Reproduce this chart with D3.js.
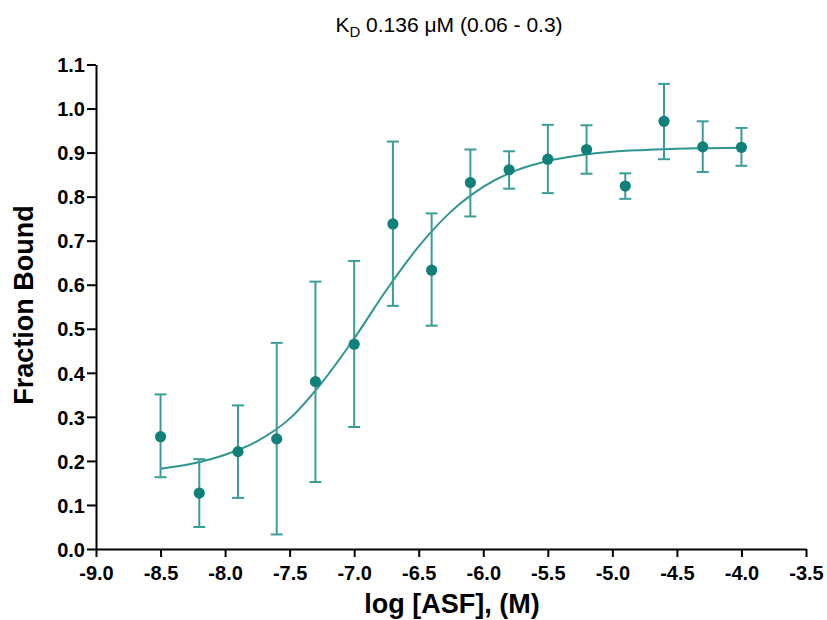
<!DOCTYPE html>
<html>
<head>
<meta charset="utf-8">
<script src="https://cdn.jsdelivr.net/npm/d3@7"></script>
<style>
  body { margin: 0; background: #fff; }
  text { font-family: "Liberation Sans", Arial, sans-serif; }
</style>
</head>
<body>
<div id="chart"></div>
<script>
// log concentration of each measured point
const logConc = [-8.5, -8.2, -7.9, -7.6, -7.3, -7.0, -6.7, -6.4, -6.1, -5.8, -5.5, -5.2, -4.9, -4.6, -4.3, -4.0];
const fracBound = [0.255, 0.127, 0.221, 0.250, 0.380, 0.465, 0.738, 0.633, 0.832, 0.861, 0.885, 0.907, 0.824, 0.971, 0.913, 0.912];
const errHigh = [0.351, 0.204, 0.326, 0.468, 0.607, 0.654, 0.925, 0.762, 0.907, 0.903, 0.963, 0.962, 0.853, 1.056, 0.971, 0.956];
const errLow  = [0.163, 0.050, 0.116, 0.033, 0.152, 0.277, 0.552, 0.507, 0.755, 0.818, 0.808, 0.852, 0.795, 0.885, 0.856, 0.870];

// fitted curve
const fitX = [-8.5, -8.25, -8.0, -7.75, -7.5, -7.25, -7.0, -6.75, -6.5, -6.25, -6.0, -5.75, -5.5, -5.25, -5.0, -4.75, -4.5, -4.25, -4.0];
const fitY = [0.182, 0.194, 0.214, 0.245, 0.296, 0.378, 0.478, 0.588, 0.687, 0.766, 0.822, 0.859, 0.881, 0.894, 0.902, 0.906, 0.909, 0.910, 0.911];

const xTicks = [-9.0, -8.5, -8.0, -7.5, -7.0, -6.5, -6.0, -5.5, -5.0, -4.5, -4.0, -3.5];
const yTicks = [0.0, 0.1, 0.2, 0.3, 0.4, 0.5, 0.6, 0.7, 0.8, 0.9, 1.0, 1.1];

const W = 827, H = 620;
const margin = { top: 64.5, right: 21, bottom: 71, left: 96 };
const width = W - margin.left - margin.right,
      height = H - margin.top - margin.bottom;

const svgRoot = d3.select("#chart").append("svg")
    .attr("width", W)
    .attr("height", H);

const svg = svgRoot.append("g")
    .attr("transform", `translate(${margin.left},${margin.top})`);

const x = d3.scaleLinear().domain([-9.0, -3.5]).range([0, width]);
const y = d3.scaleLinear().domain([0, 1.1]).range([height, 0]);

// axes
const xAxis = svg.append("g")
    .attr("transform", `translate(0,${height})`)
    .call(d3.axisBottom(x).tickValues(xTicks).tickFormat(d => d.toFixed(1)).tickSize(8).tickSizeOuter(0));
const yAxis = svg.append("g")
    .call(d3.axisLeft(y).tickValues(yTicks).tickFormat(d => d.toFixed(1)).tickSize(9).tickSizeOuter(0));

[xAxis, yAxis].forEach(g => {
    g.select(".domain").attr("stroke", "#000").attr("stroke-width", 2);
    g.selectAll(".tick line").attr("stroke", "#000").attr("stroke-width", 2);
    g.selectAll(".tick text")
        .attr("fill", "#000")
        .style("font-size", "20px")
        .style("font-weight", "bold");
});
xAxis.selectAll(".tick text").attr("dy", "1.02em");
yAxis.selectAll(".tick text").attr("x", -11).attr("dy", "0.36em");

// fitted curve
const line = d3.line()
    .x(d => x(d[0]))
    .y(d => y(d[1]))
    .curve(d3.curveMonotoneX);
svg.append("path")
    .datum(fitX.map((v, i) => [v, fitY[i]]))
    .attr("d", line)
    .attr("fill", "none")
    .attr("stroke", "#2f9591")
    .attr("stroke-width", 2);

// error bars
const pts = logConc.map((v, i) => ({ x: v, y: fracBound[i], hi: errHigh[i], lo: errLow[i] }));
const cap = 6;
const eb = svg.selectAll(".err").data(pts).enter().append("g").attr("class", "err")
    .attr("stroke", "#3a9d99").attr("stroke-width", 2);
eb.append("line")
    .attr("x1", d => x(d.x)).attr("x2", d => x(d.x))
    .attr("y1", d => y(d.hi)).attr("y2", d => y(d.lo));
eb.append("line")
    .attr("x1", d => x(d.x) - cap).attr("x2", d => x(d.x) + cap)
    .attr("y1", d => y(d.hi)).attr("y2", d => y(d.hi));
eb.append("line")
    .attr("x1", d => x(d.x) - cap).attr("x2", d => x(d.x) + cap)
    .attr("y1", d => y(d.lo)).attr("y2", d => y(d.lo));

// points
svg.selectAll(".dot").data(pts).enter().append("circle")
    .attr("class", "dot")
    .attr("cx", d => x(d.x))
    .attr("cy", d => y(d.y))
    .attr("r", 5.6)
    .attr("fill", "#117f7a");

// title
const title = svgRoot.append("text")
    .attr("x", 449)
    .attr("y", 32)
    .attr("text-anchor", "middle")
    .style("font-size", "21px")
    .attr("fill", "#000");
title.append("tspan").text("K");
title.append("tspan").attr("dy", 5).style("font-size", "15px").text("D");
title.append("tspan").attr("dy", -5).text(" 0.136 \u03bcM (0.06 - 0.3)");

// axis titles
svgRoot.append("text")
    .attr("x", 452)
    .attr("y", 613)
    .attr("text-anchor", "middle")
    .style("font-size", "27px")
    .style("font-weight", "bold")
    .attr("fill", "#000")
    .text("log [ASF], (M)");

svgRoot.append("text")
    .attr("transform", "translate(33,305) rotate(-90)")
    .attr("text-anchor", "middle")
    .style("font-size", "27px")
    .style("font-weight", "bold")
    .attr("fill", "#000")
    .text("Fraction Bound");
</script>
</body>
</html>
